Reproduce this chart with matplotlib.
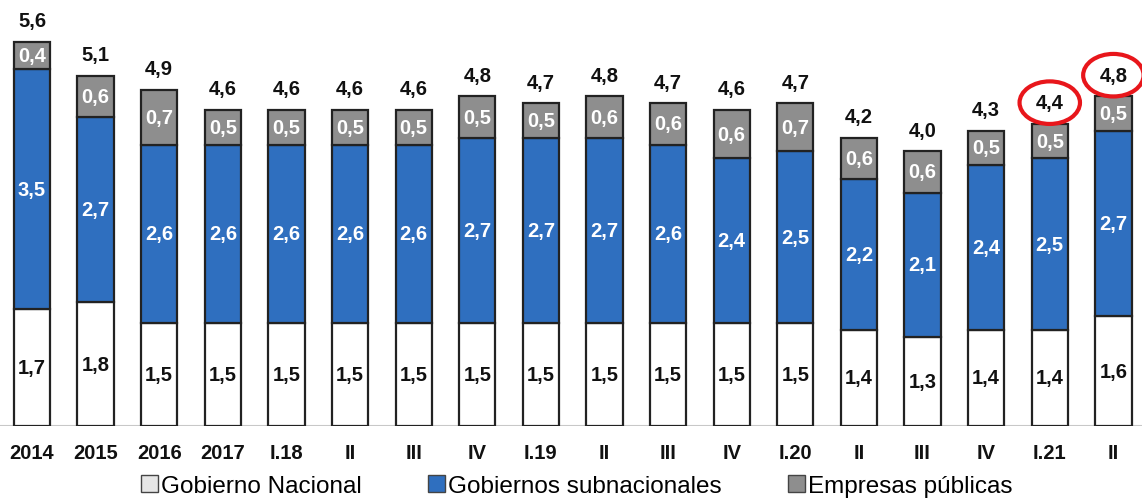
import matplotlib
matplotlib.use("Agg")
import matplotlib.pyplot as plt
from matplotlib.patches import Ellipse, Patch

periodos = ["2014", "2015", "2016", "2017", "I.18", "II", "III", "IV", "I.19",
            "II", "III", "IV", "I.20", "II", "III", "IV", "I.21", "II"]
nacional = [1.7, 1.8, 1.5, 1.5, 1.5, 1.5, 1.5, 1.5, 1.5, 1.5, 1.5, 1.5, 1.5, 1.4, 1.3, 1.4, 1.4, 1.6]
subnacional = [3.5, 2.7, 2.6, 2.6, 2.6, 2.6, 2.6, 2.7, 2.7, 2.7, 2.6, 2.4, 2.5, 2.2, 2.1, 2.4, 2.5, 2.7]
empresas = [0.4, 0.6, 0.7, 0.5, 0.5, 0.5, 0.5, 0.5, 0.5, 0.6, 0.6, 0.6, 0.7, 0.6, 0.6, 0.5, 0.5, 0.5]
totales = [5.6, 5.1, 4.9, 4.6, 4.6, 4.6, 4.6, 4.8, 4.7, 4.8, 4.7, 4.6, 4.7, 4.2, 4.0, 4.3, 4.4, 4.8]
resaltados = [16, 17]

plt.rcParams['font.family'] = ['Liberation Sans', 'DejaVu Sans']

fig = plt.figure(figsize=(11.42, 5.02), dpi=100)
ax = fig.add_axes([0, 0.1494, 1, 0.8506])
ax.set_xlim(-0.503, 17.45)
ax.set_ylim(0, 6.22)
ax.axis("off")

x = list(range(len(periodos)))
w = 0.57
c_nac = "#ffffff"
c_sub = "#2f6fbf"
c_emp = "#8e8e8e"

def fmt(v):
    return f"{v:.1f}".replace(".", ",")

# unrounded totals set the top of each bar, so the top segment fills the gap
base2 = [a + b for a, b in zip(nacional, subnacional)]
resto = [t - b for t, b in zip(totales, base2)]
ax.bar(x, nacional, w, color=c_nac, edgecolor="#222222", linewidth=1.6, zorder=3)
ax.bar(x, subnacional, w, bottom=nacional, color=c_sub, edgecolor="#222222", linewidth=1.6, zorder=3)
ax.bar(x, resto, w, bottom=base2, color=c_emp, edgecolor="#222222", linewidth=1.6, zorder=3)
ax.axhline(0, color="#c8c8c8", linewidth=1.5, zorder=2)

fs = 14.5
for i in x:
    top = totales[i]
    ax.text(i, nacional[i] / 2, fmt(nacional[i]), ha="center", va="center",
            fontsize=fs, fontweight="bold", color="#111111", zorder=4)
    ax.text(i, nacional[i] + subnacional[i] / 2, fmt(subnacional[i]), ha="center", va="center",
            fontsize=fs, fontweight="bold", color="white", zorder=4)
    ax.text(i, base2[i] + resto[i] / 2, fmt(empresas[i]), ha="center", va="center",
            fontsize=fs, fontweight="bold", color="white", zorder=4)
    ax.text(i, top + 0.31, fmt(totales[i]), ha="center", va="center",
            fontsize=fs, fontweight="bold", color="#111111", zorder=4)
    ax.text(i, -0.38, periodos[i], ha="center", va="center",
            fontsize=14.5, fontweight="bold", color="#111111")

for i in resaltados:
    ax.add_patch(Ellipse((i, totales[i] + 0.31), 0.95, 0.62, fill=False,
                         edgecolor="#e8161b", linewidth=3, zorder=5))

handles = [Patch(facecolor="#e6e6e6", edgecolor="#444444", label="Gobierno Nacional"),
           Patch(facecolor=c_sub, edgecolor="#444444", label="Gobiernos subnacionales"),
           Patch(facecolor=c_emp, edgecolor="#444444", label="Empresas públicas")]
fig.legend(handles=handles, loc="center", bbox_to_anchor=(0.505, 0.03), ncol=3,
           frameon=False, fontsize=17.5, handlelength=0.7, handleheight=0.7,
           handletextpad=0.15, columnspacing=2.7)

fig.savefig("out.png", dpi=100)
